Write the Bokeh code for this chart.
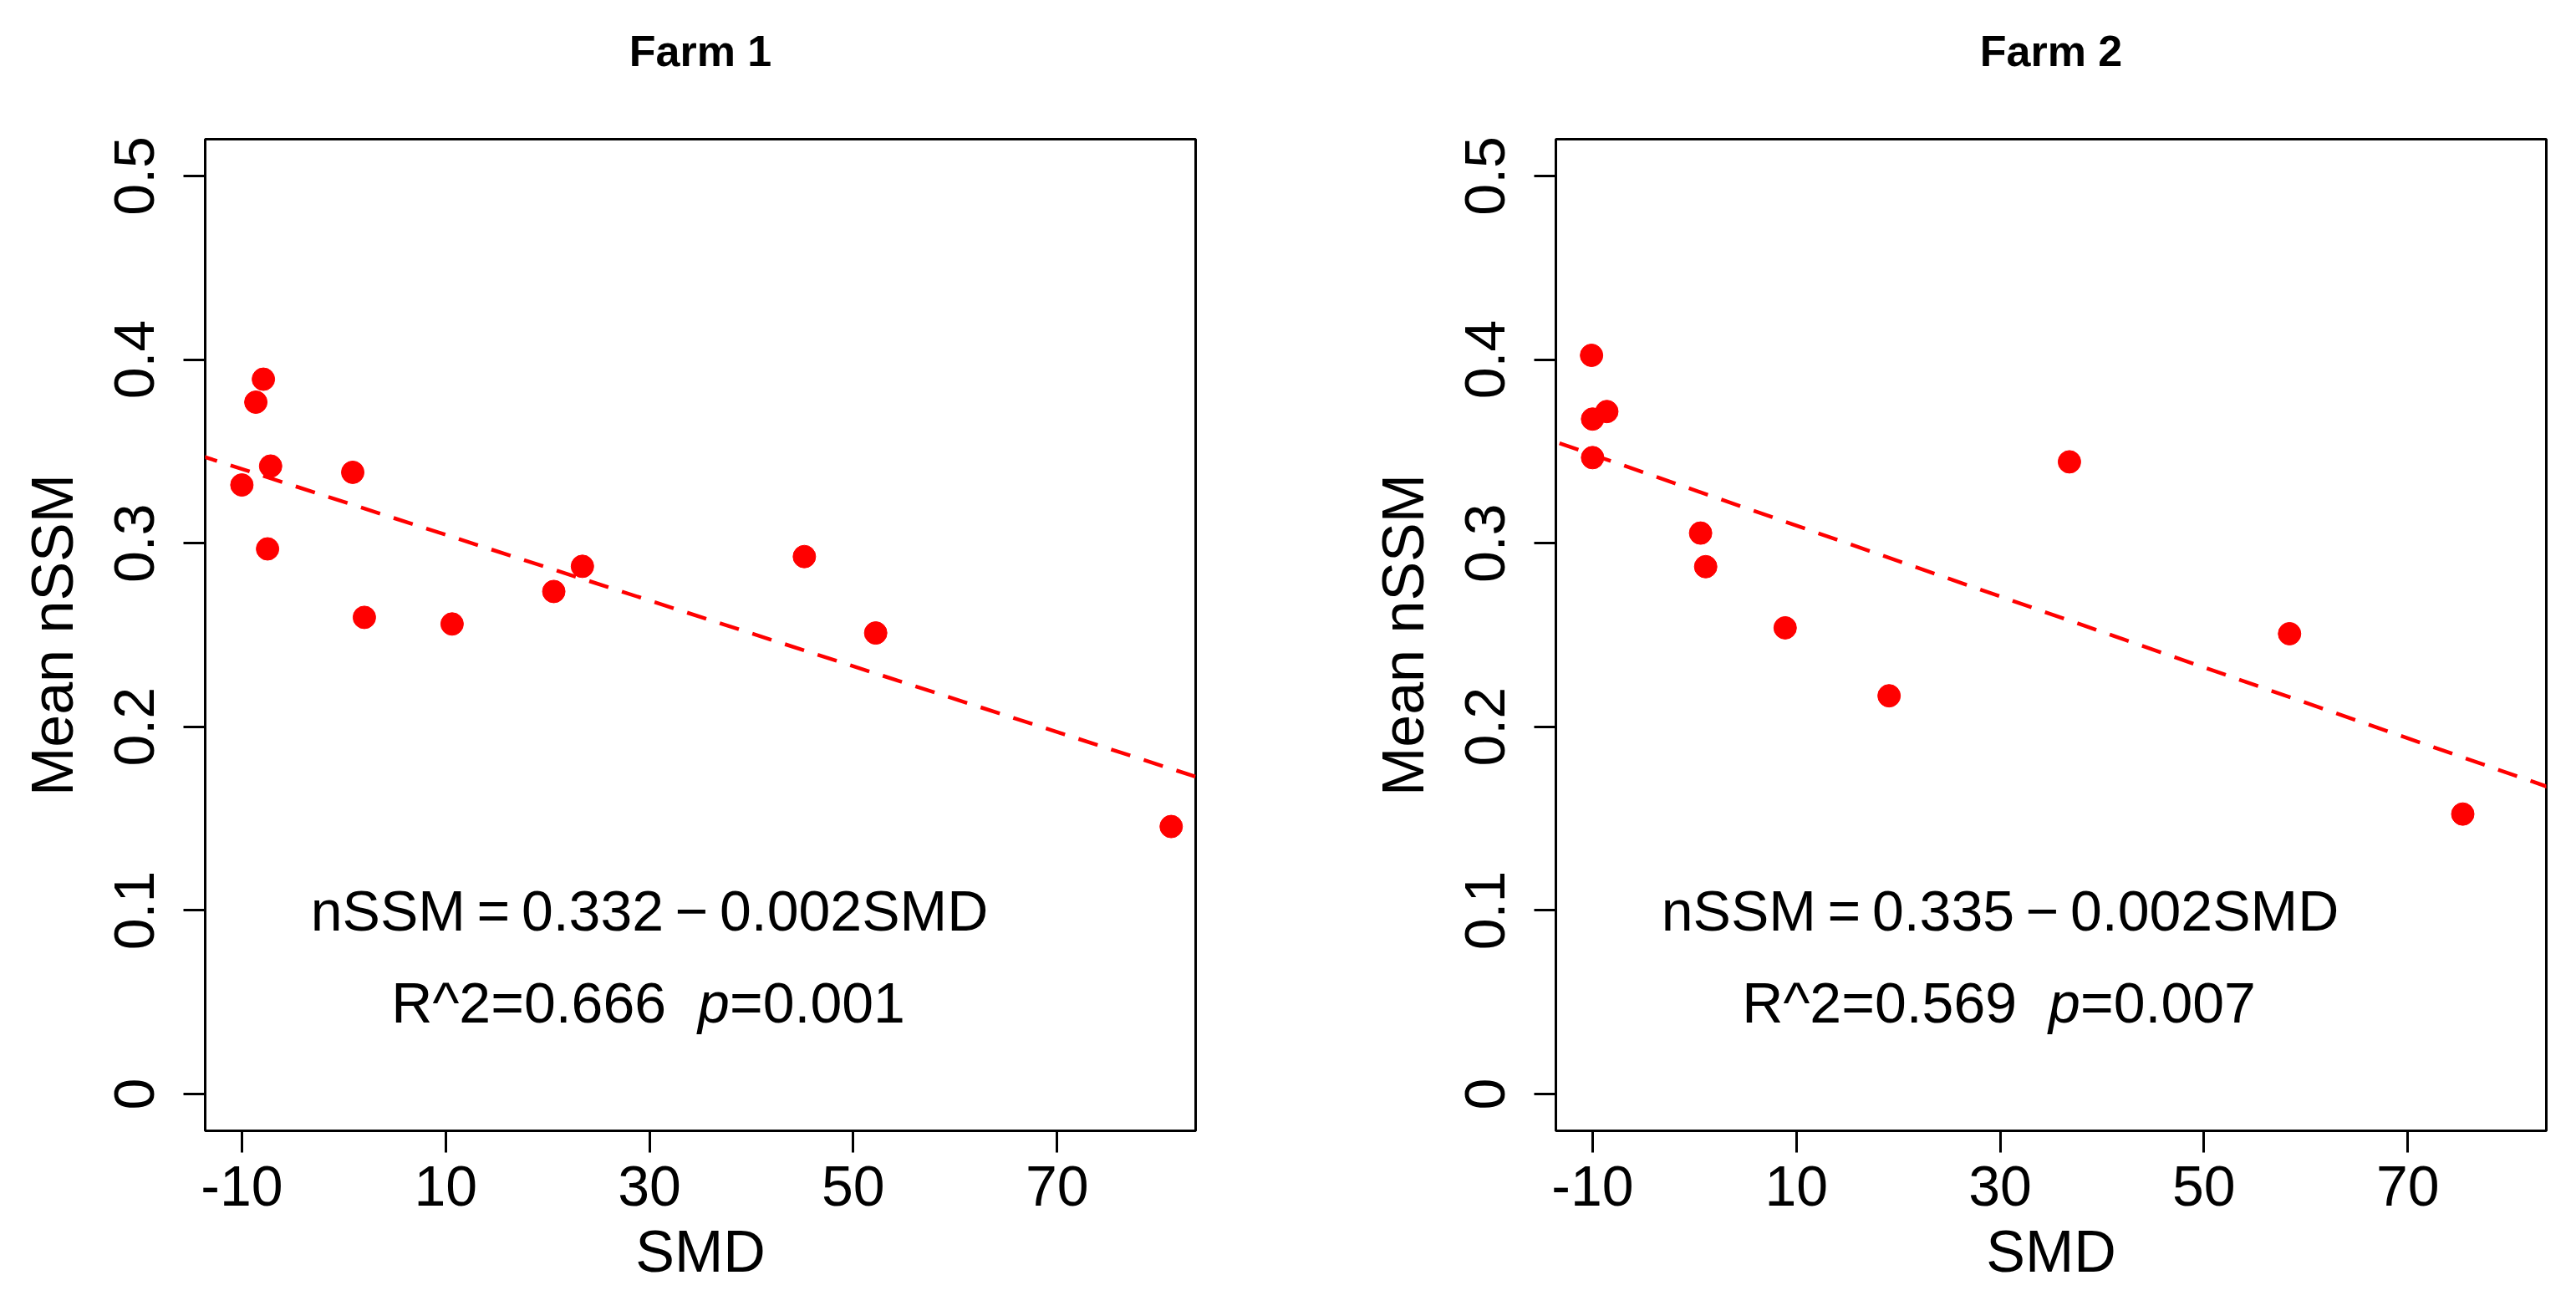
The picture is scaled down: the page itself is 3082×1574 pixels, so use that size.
from bokeh.plotting import figure
from bokeh.layouts import row
from bokeh.models import FixedTicker, Slope, Range1d, LinearAxis
from bokeh.embed import file_html
from bokeh.resources import INLINE
from bokeh.core.properties import value

# ---------------- data ----------------
titles = ["Farm 1", "Farm 2"]

farm1_smd = [-10.0, -8.63, -7.89, -7.18, -7.48, 0.88, 2.02, 10.63, 20.61, 23.42, 45.2, 52.2, 81.2]
farm1_nssm = [0.3317, 0.3768, 0.3893, 0.3420, 0.2969, 0.3386, 0.2596, 0.2560, 0.2737, 0.2874, 0.2927, 0.2511, 0.1457]

farm2_smd = [-10.1, -10.0, -8.6, -10.0, 0.6, 1.1, 8.9, 19.1, 36.8, 58.4, 75.4]
farm2_nssm = [0.4023, 0.3676, 0.3717, 0.3466, 0.3055, 0.2872, 0.2539, 0.2169, 0.3443, 0.2507, 0.1525]

fit_intercepts = [0.3225, 0.3289]
fit_slopes = [-0.00179, -0.00193]

equations = ["nSSM\u2009=\u20090.332\u2009\u2212\u20090.002SMD", "nSSM\u2009=\u20090.335\u2009\u2212\u20090.002SMD"]
r2_labels = ["R^2=0.666", "R^2=0.569"]
p_symbol = "p"
p_values = ["=0.001", "=0.007"]

x_ticks = [-10, 10, 30, 50, 70]
x_tick_labels = ["-10", "10", "30", "50", "70"]
y_ticks = [0, 0.1, 0.2, 0.3, 0.4, 0.5]
y_tick_labels = ["0", "0.1", "0.2", "0.3", "0.4", "0.5"]

x_lim = (-13.6, 83.6)
y_lim = (-0.02, 0.52)
text_x = 30
eq_y = 0.1
stat_y = 0.05

FONT = "Liberation Sans"
series = [(farm1_smd, farm1_nssm), (farm2_smd, farm2_nssm)]
layout_cfg = [
    dict(width=1541, min_border_left=245, min_border_right=111),
    dict(width=1533, min_border_left=320, min_border_right=28),
]

figs = []
for i in range(2):
    cfg = layout_cfg[i]
    p = figure(width=cfg["width"], height=1552,
               x_range=Range1d(*x_lim), y_range=Range1d(*y_lim),
               min_border_left=cfg["min_border_left"], min_border_right=cfg["min_border_right"],
               min_border_top=166, min_border_bottom=200,
               output_backend="svg", toolbar_location=None,
               background_fill_color="white", border_fill_color="white")
    p.grid.visible = False
    p.outline_line_color = "black"
    p.outline_line_width = 3
    p.outline_line_alpha = 1.0

    xaxis = p.below[0]
    yaxis = p.left[0]

    xaxis.ticker = FixedTicker(ticks=x_ticks)
    xaxis.major_label_overrides = dict(zip(x_ticks, x_tick_labels))
    yaxis.ticker = FixedTicker(ticks=y_ticks)
    yaxis.major_label_overrides = dict(zip(y_ticks, y_tick_labels))
    yaxis.major_label_orientation = "vertical"
    xaxis.axis_label = "SMD"
    yaxis.axis_label = "Mean nSSM"
    for ax in (xaxis, yaxis):
        ax.axis_line_color = None
        ax.major_tick_line_color = "black"
        ax.major_tick_line_width = 3
        ax.major_tick_in = 0
        ax.major_tick_out = 26
        ax.minor_tick_line_color = None
        ax.major_label_text_font = FONT
        ax.major_label_text_font_size = "68px"
        ax.major_label_text_color = "black"
        ax.axis_label_text_font = FONT
        ax.axis_label_text_font_size = "70px"
        ax.axis_label_text_font_style = "normal"
        ax.axis_label_text_color = "black"
    xaxis.major_label_standoff = 16
    xaxis.axis_label_standoff = 13
    yaxis.major_label_standoff = 35
    yaxis.axis_label_standoff = 33

    # panel title: label of an empty axis above the frame (centred on the frame)
    title_axis = LinearAxis(ticker=FixedTicker(ticks=[]), axis_label=titles[i],
                            axis_line_color=None, major_tick_line_color=None,
                            minor_tick_line_color=None, major_tick_in=0, major_tick_out=0,
                            minor_tick_in=0, minor_tick_out=0, major_label_standoff=0,
                            major_label_text_font_size="0px", major_label_text_alpha=0,
                            axis_label_text_font=FONT, axis_label_text_font_size="52px",
                            axis_label_text_font_style="bold", axis_label_text_color="black",
                            axis_label_standoff=77)
    p.add_layout(title_axis, "above")

    p.add_layout(Slope(gradient=fit_slopes[i], y_intercept=fit_intercepts[i],
                       line_color="red", line_width=4.5, line_dash="24 17"))

    xs, ys = series[i]
    p.scatter(xs, ys, size=27, marker="circle", fill_color="red", line_color="red")

    p.text(x=[text_x], y=[eq_y], text=[equations[i]], text_font=value(FONT),
           text_font_size="68px", text_align="center", text_baseline="middle",
           text_color="black")
    p.text(x=[text_x], y=[stat_y], text=[r2_labels[i]], text_font=value(FONT),
           text_font_size="68px", text_align="right", text_baseline="middle",
           text_color="black", x_offset=20)
    p.text(x=[text_x], y=[stat_y], text=[p_symbol], text_font=value(FONT),
           text_font_size="68px", text_font_style="italic", text_align="left",
           text_baseline="middle", text_color="black", x_offset=58)
    p.text(x=[text_x], y=[stat_y], text=[p_values[i]], text_font=value(FONT),
           text_font_size="68px", text_align="left", text_baseline="middle",
           text_color="black", x_offset=96)
    figs.append(p)

layout = row(figs[0], figs[1])
open("out.html", "w").write(file_html(layout, INLINE))
